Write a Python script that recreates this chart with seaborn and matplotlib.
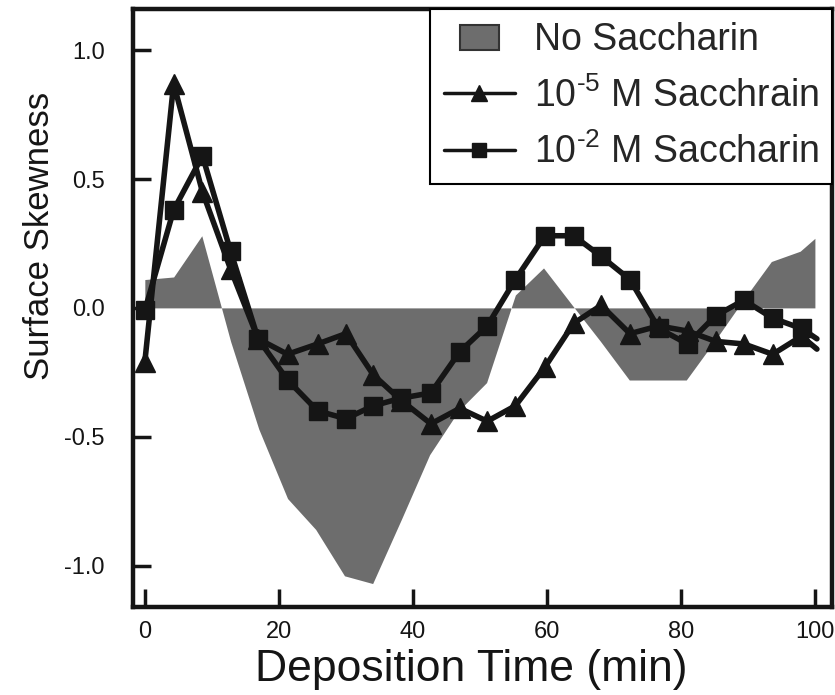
import numpy as np
import pandas as pd
import matplotlib
matplotlib.use('Agg')
import matplotlib.pyplot as plt
from matplotlib.lines import Line2D
from matplotlib.patches import Patch, Rectangle
from matplotlib.legend_handler import HandlerPatch
from matplotlib.ticker import FormatStrFormatter
import seaborn as sns

# values
time = [0.0, 4.3, 8.6, 12.8, 16.9, 21.3, 25.8, 30.0, 34.1, 38.3, 42.7, 47.0,
        51.1, 55.3, 59.7, 64.0, 68.1, 72.4, 76.7, 81.0, 85.2, 89.4, 93.7, 98.0, 100.3]
skew_1e5 = [-0.21, 0.87, 0.45, 0.15, -0.12, -0.18, -0.14, -0.10, -0.26, -0.36, -0.45, -0.39,
            -0.44, -0.38, -0.23, -0.06, 0.01, -0.10, -0.07, -0.09, -0.13, -0.14, -0.18, -0.11, -0.16]
skew_1e2 = [-0.01, 0.38, 0.59, 0.22, -0.12, -0.28, -0.40, -0.43, -0.38, -0.35, -0.33, -0.17,
            -0.07, 0.11, 0.28, 0.28, 0.20, 0.11, -0.08, -0.14, -0.03, 0.03, -0.04, -0.08, -0.12]

fill_time = [0.0, 4.3, 8.5, 12.8, 17.0, 21.3, 25.5, 29.8, 34.0, 38.3, 42.5, 46.8, 51.0,
             55.3, 59.5, 63.8, 68.0, 72.3, 76.5, 80.8, 85.0, 89.3, 93.5, 97.8, 100.0]
skew_none = [0.11, 0.12, 0.28, -0.13, -0.47, -0.74, -0.86, -1.04, -1.07, -0.82, -0.57, -0.40, -0.29,
             0.05, 0.155, 0.01, -0.13, -0.28, -0.28, -0.28, -0.13, 0.03, 0.18, 0.22, 0.27]

labels = ['No Saccharin', r'10$^{\text{-5}}$ M Sacchrain', r'10$^{\text{-2}}$ M Saccharin']

sns.set_style('ticks')
plt.rcParams['font.family'] = ['Liberation Sans', 'DejaVu Sans']
plt.rcParams['mathtext.fontset'] = 'custom'
plt.rcParams['mathtext.rm'] = 'Liberation Sans'
plt.rcParams['mathtext.it'] = 'Liberation Sans:italic'
plt.rcParams['mathtext.bf'] = 'Liberation Sans:bold'
plt.rcParams['axes.unicode_minus'] = False

ink = '#151515'
grey = '#6d6d6d'

fig = plt.figure(figsize=(8.35, 6.95), dpi=100)
ax = fig.add_axes([0.159, 0.127, 0.837, 0.86])

ax.fill_between(fill_time, skew_none, 0, color=grey, linewidth=0, zorder=1)

sns.lineplot(x=time, y=skew_1e5, ax=ax, color=ink, linewidth=4, marker='^', markersize=14,
             markeredgecolor=ink, markeredgewidth=1, markevery=slice(0, 24), zorder=3)
sns.lineplot(x=time, y=skew_1e2, ax=ax, color=ink, linewidth=4, marker='s', markersize=13,
             markeredgecolor=ink, markeredgewidth=1, markevery=slice(0, 24), zorder=3)

ax.set_xlim(-1.8, 102.5)
ax.set_ylim(-1.16, 1.16)
ax.set_xticks([0, 20, 40, 60, 80, 100])
ax.set_yticks([-1.0, -0.5, 0.0, 0.5, 1.0])
ax.yaxis.set_major_formatter(FormatStrFormatter('%.1f'))
ax.tick_params(axis='both', direction='in', length=13, width=2.5, colors=ink)
ax.tick_params(axis='x', labelsize=17, pad=10)
ax.tick_params(axis='y', labelsize=17, pad=20)
for s in ax.spines.values():
    s.set_linewidth(3.2)
    s.set_color(ink)

ax.set_xlabel('Deposition Time (min)', fontsize=32, color=ink)
ax.set_ylabel('Surface Skewness', fontsize=25, color=ink)
ax.xaxis.set_label_coords(0.484, -0.071)
ax.yaxis.set_label_coords(-0.11, 0.62)


def small_box(legend, orig_handle, xdescent, ydescent, width, height, fontsize):
    w = width * 0.55
    h = height * 0.95
    return Rectangle((-xdescent + (width - w) / 2, -ydescent + (height - h) / 2), w, h)


handles = [Patch(facecolor=grey, edgecolor='#333333', linewidth=1.5),
           Line2D([], [], color=ink, linewidth=2.5, marker='^', markersize=11),
           Line2D([], [], color=ink, linewidth=2.5, marker='s', markersize=10)]
leg = ax.legend(handles, labels, loc='upper right', borderaxespad=0, fontsize=27,
                frameon=True, fancybox=False, framealpha=1, edgecolor='black',
                handlelength=1.9, handletextpad=0.5, labelspacing=0.5, borderpad=0.35,
                handler_map={Patch: HandlerPatch(patch_func=small_box)})
leg.get_frame().set_linewidth(1.5)
leg.set_zorder(10)

fig.savefig('out.png', dpi=100)
